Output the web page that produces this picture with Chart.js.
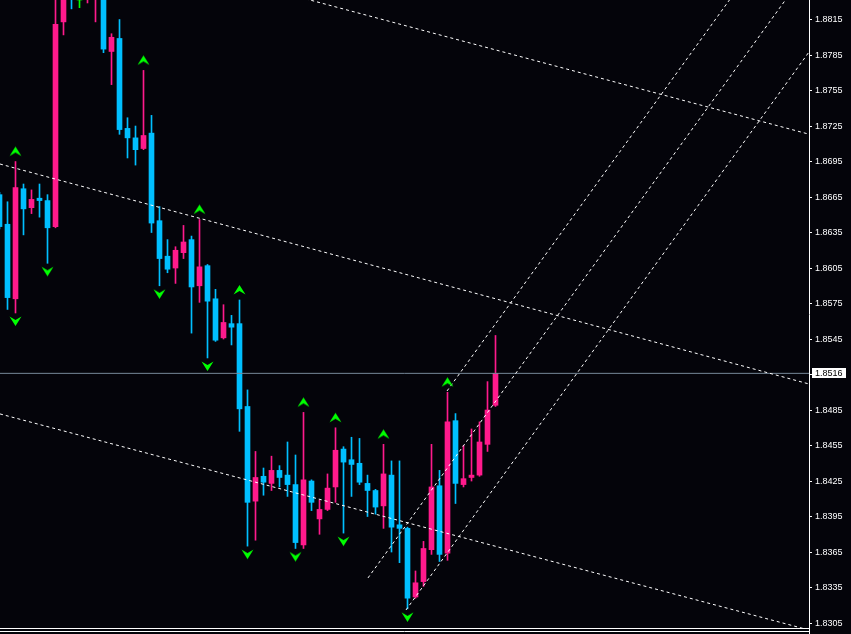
<!DOCTYPE html>
<html>
<head>
<meta charset="utf-8">
<script src="https://cdn.jsdelivr.net/npm/chart.js@4.4.0/dist/chart.umd.min.js"></script>
<style>
html, body { margin: 0; padding: 0; background: #04040a; }
canvas { display: block; }
</style>
</head>
<body>
<canvas id="mycanvas" width="851" height="634"></canvas>
<script>
// candles, oldest first; first one sits at bar index -1 (half cut off on the left)
var firstBar = -1;
var opens  = [1.8667,1.8642,1.8579,1.8672,1.8656,1.8664,1.8662,1.8640,1.8813,1.8852,1.8840,1.8838,1.8834,1.8838,1.8788,1.8799,1.8723,1.8715,1.8706,1.8719,1.8645,1.8615,1.8605,1.8618,1.8629,1.8590,1.8607,1.8579,1.8546,1.8558,1.8558,1.8488,1.8408,1.8429,1.8423,1.8434,1.8430,1.8422,1.8371,1.8425,1.8393,1.8401,1.8420,1.8452,1.8443,1.8440,1.8423,1.8417,1.8404,1.8430,1.8388,1.8385,1.8327,1.8340,1.8367,1.8421,1.8364,1.8476,1.8422,1.8428,1.8430,1.8456,1.8489];
var highs  = [1.8669,1.8661,1.8695,1.8676,1.8671,1.8676,1.8667,1.8838,1.8850,1.8858,1.8848,1.8856,1.8850,1.8842,1.8803,1.8815,1.8732,1.8725,1.8772,1.8734,1.8657,1.8629,1.8623,1.8641,1.8632,1.8646,1.8608,1.8587,1.8574,1.8565,1.8578,1.8502,1.8450,1.8436,1.8446,1.8438,1.8458,1.8447,1.8483,1.8426,1.8409,1.8431,1.8470,1.8454,1.8462,1.8461,1.8430,1.8418,1.8456,1.8442,1.8442,1.8386,1.8349,1.8374,1.8456,1.8434,1.8500,1.8482,1.8455,1.8469,1.8475,1.8509,1.8548];
var lows   = [1.8638,1.8570,1.8567,1.8633,1.8651,1.8648,1.8609,1.8639,1.8802,1.8824,1.8825,1.8829,1.8813,1.8787,1.8760,1.8718,1.8698,1.8692,1.8705,1.8635,1.8590,1.8601,1.8592,1.8613,1.8550,1.8576,1.8529,1.8543,1.8545,1.8540,1.8467,1.8370,1.8375,1.8413,1.8417,1.8420,1.8412,1.8368,1.8368,1.8400,1.8380,1.8400,1.8407,1.8381,1.8412,1.8422,1.8395,1.8397,1.8385,1.8365,1.8356,1.8317,1.8326,1.8336,1.8363,1.8357,1.8358,1.8406,1.8420,1.8425,1.8429,1.8450,1.8488];
var closes = [1.8640,1.8580,1.8673,1.8655,1.8663,1.8662,1.8639,1.8811,1.8844,1.8836,1.8840,1.8850,1.8845,1.8790,1.8800,1.8722,1.8715,1.8705,1.8717,1.8643,1.8613,1.8604,1.8620,1.8627,1.8589,1.8606,1.8577,1.8544,1.8559,1.8555,1.8486,1.8407,1.8428,1.8424,1.8434,1.8428,1.8422,1.8373,1.8426,1.8407,1.8401,1.8419,1.8451,1.8441,1.8439,1.8424,1.8417,1.8403,1.8431,1.8386,1.8385,1.8326,1.8339,1.8368,1.8420,1.8363,1.8475,1.8423,1.8427,1.8430,1.8458,1.8485,1.8516];

// fractal arrows (bar index)
var upFractals   = [1, 17, 24, 29, 37, 41, 47, 55];
var downFractals = [1, 5, 19, 25, 30, 36, 42, 50];

var bid = 1.8516;

var yTickValues = [1.8305,1.8335,1.8365,1.8395,1.8425,1.8455,1.8485,1.8515,1.8545,1.8575,1.8605,1.8635,1.8665,1.8695,1.8725,1.8755,1.8785,1.8815];
var yTickLabels = ['1.8305','1.8335','1.8365','1.8395','1.8425','1.8455','1.8485','1.8515','1.8545','1.8575','1.8605','1.8635','1.8665','1.8695','1.8725','1.8755','1.8785','1.8815'];

// trend lines: [bar1, price1, bar2, price2]
var trendLines = [
    [30, 1.88457, 100.19, 1.87181],
    [-0.94, 1.86929, 100.19, 1.85070],
    [-0.94, 1.84817, 100.19, 1.82991],
    [45.06, 1.83431, 100.19, 1.88591],
    [54.94, 1.85011, 100.19, 1.89246],
    [49.81, 1.83160, 100.19, 1.87876]
];

var BULL = '#ff1a8c', BEAR = '#00bfff', DOJI = '#00ff00';

function candleColor(i) {
    if (closes[i] > opens[i]) return BULL;
    if (closes[i] < opens[i]) return BEAR;
    return DOJI;
}

function makeArrow(up) {
    var c = document.createElement('canvas');
    c.width = 13; c.height = 40;
    var g = c.getContext('2d');
    g.fillStyle = '#00ff00';
    g.beginPath();
    if (up) {
        g.moveTo(6.5, 5); g.lineTo(12.5, 14.5); g.lineTo(6.5, 11); g.lineTo(0.5, 14.5);
    } else {
        g.moveTo(6.5, 33); g.lineTo(12.5, 23.5); g.lineTo(6.5, 27); g.lineTo(0.5, 23.5);
    }
    g.closePath();
    g.fill();
    return c;
}

var colors = opens.map(function(o, i){ return candleColor(i); });

var datasets = [];

datasets.push({
    type: 'line', order: 0, showLine: false, clip: false,
    data: upFractals.map(function(b){ return {x: b, y: highs[b - firstBar]}; }),
    pointStyle: makeArrow(true), pointRadius: 5
});
datasets.push({
    type: 'line', order: 0, showLine: false, clip: false,
    data: downFractals.map(function(b){ return {x: b, y: lows[b - firstBar]}; }),
    pointStyle: makeArrow(false), pointRadius: 5
});

trendLines.forEach(function(t){
    datasets.push({
        type: 'line', order: 1,
        data: [{x: t[0], y: t[1]}, {x: t[2], y: t[3]}],
        borderColor: '#ffffff', borderWidth: 1, borderDash: [3, 3],
        pointRadius: 0, fill: false
    });
});

datasets.push({
    type: 'line', order: 2,
    data: [{x: -1, y: bid}, {x: 100.19, y: bid}],
    borderColor: '#778899', borderWidth: 1, pointRadius: 0, fill: false
});

datasets.push({
    type: 'bar', order: 3, grouped: false, barThickness: 5, minBarLength: 1,
    data: opens.map(function(o, i){ return {x: i + firstBar, y: [o, closes[i]]}; }),
    backgroundColor: colors, borderWidth: 0
});
datasets.push({
    type: 'bar', order: 4, grouped: false, barThickness: 1,
    data: lows.map(function(l, i){ return {x: i + firstBar, y: [l, highs[i]]}; }),
    backgroundColor: colors, borderWidth: 0
});

var framePlugin = {
    id: 'frame',
    beforeDraw: function(chart) {
        var ctx = chart.ctx;
        ctx.save();
        ctx.fillStyle = '#04040a';
        ctx.fillRect(0, 0, chart.width, chart.height);
        ctx.restore();
    },
    afterDraw: function(chart) {
        var ctx = chart.ctx, area = chart.chartArea;
        var y = Math.round(chart.scales.y.getPixelForValue(bid));
        ctx.save();
        ctx.strokeStyle = '#ffffff';
        ctx.lineWidth = 1;
        ctx.beginPath();
        ctx.moveTo(0, area.bottom + 3.5); ctx.lineTo(area.right, area.bottom + 3.5);
        ctx.moveTo(area.right + 0.5, area.bottom); ctx.lineTo(area.right + 0.5, chart.height);
        ctx.stroke();
        // bid price box
        ctx.fillStyle = '#ffffff';
        ctx.fillRect(area.right + 3, y - 5, 34, 10);
        ctx.fillStyle = '#000000';
        ctx.font = '9px "Liberation Sans"';
        ctx.textBaseline = 'middle';
        ctx.fillText(bid.toFixed(4), area.right + 6, y + 0.5);
        ctx.restore();
    }
};

var ctx = document.getElementById('mycanvas');

var chart = new Chart(ctx, {
    type: 'bar',
    data: { datasets: datasets },
    options: {
        responsive: false,
        animation: false,
        events: [],
        layout: { padding: 0, autoPadding: false },
        plugins: { legend: { display: false }, tooltip: { enabled: false } },
        scales: {
            x: {
                type: 'linear', min: -0.9375, max: 100.1875, offset: false,
                ticks: { display: false },
                grid: { display: false },
                border: { color: '#ffffff' },
                afterFit: function(s){ s.height = 6; s.paddingLeft = 0; s.paddingRight = 0; }
            },
            y: {
                position: 'right', min: 1.83008, max: 1.88315,
                afterBuildTicks: function(s){ s.ticks = yTickValues.map(function(v){ return {value: v}; }); },
                ticks: {
                    color: '#ffffff', padding: 3,
                    font: { family: 'Liberation Sans', size: 9 },
                    callback: function(v, i){ return yTickLabels[i]; }
                },
                grid: { drawOnChartArea: false, tickLength: 3, color: '#ffffff' },
                border: { color: '#ffffff' },
                afterFit: function(s){ s.width = 42; s.paddingTop = 0; s.paddingBottom = 0; }
            }
        }
    },
    plugins: [framePlugin]
});
</script>
</body>
</html>
